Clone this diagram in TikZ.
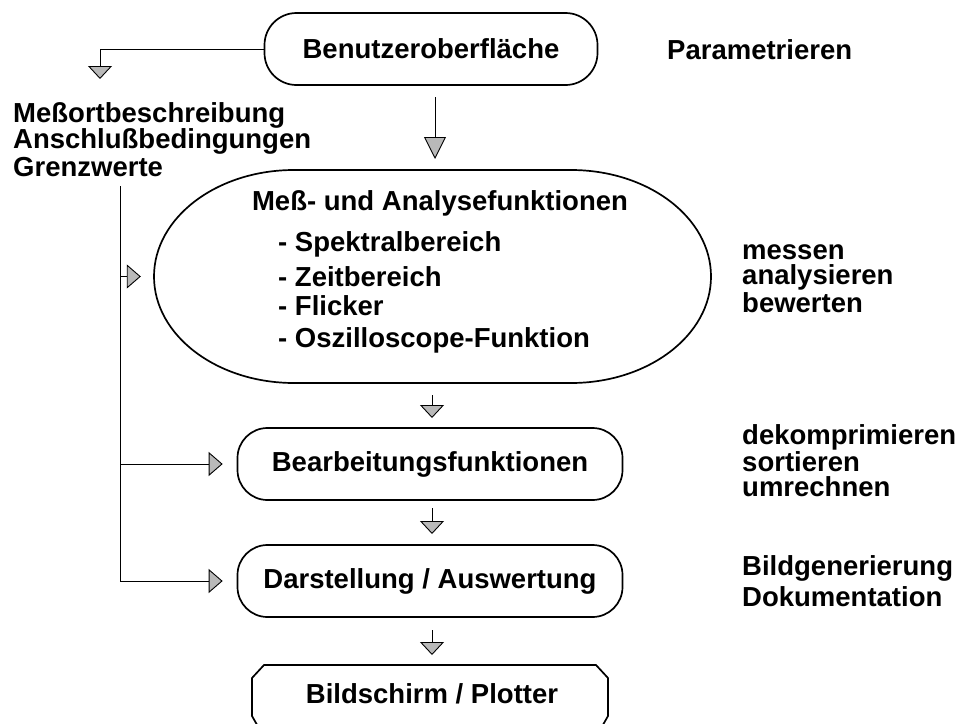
\documentclass[tikz,border=0pt]{standalone}
\usepackage{fontspec}
\setmainfont{Liberation Sans}
\usetikzlibrary{arrows.meta}
\tikzset{
  x=1pt, y=-1pt,
  lbl/.style={font=\bfseries\fontsize{27.5}{31}\selectfont, inner sep=0pt},
  lbll/.style={lbl, anchor=west},
  box/.style={draw, line width=1.7pt, rounded corners=30pt, minimum width=385pt, minimum height=72pt},
  outline/.style={line width=1.7pt},
  wire/.style={line width=0.9pt},
  bigtip/.style={wire, -{Triangle[width=22pt,length=22pt,fill=gray!55,line width=0.9pt]}},
  smalltip/.style={wire, -{Triangle[width=24pt,length=13pt,fill=gray!55,line width=0.9pt]}},
  sidetip/.style={wire, -{Triangle[width=24pt,length=14pt,fill=gray!55,line width=0.9pt]}},
}
\begin{document}
\begin{tikzpicture}
\useasboundingbox (0,0) rectangle (966,723);
% top box
\node[draw, line width=1.7pt, rounded corners=32pt, minimum width=333pt, minimum height=72pt, lbl] (ui) at (431,49) {Benutzeroberfläche};
\node[lbll] (par) at (667,50) {Parametrieren};
% left text
\node[lbll] (t1) at (13,115) {Meßortbeschreibung};
\node[lbll] (t2) at (13,141) {Anschlußbedingungen};
\node[lbll] (t3) at (13,167) {Grenzwerte};
% big rounded shape (elliptical ends)
\node[minimum width=557pt, minimum height=213pt, inner sep=0pt] (mf) at (432.5,276.5) {};
\draw[outline] (294,170) -- (571,170)
  arc[start angle=90,end angle=-90,x radius=140pt,y radius=106.5pt]
  -- (294,383)
  arc[start angle=270,end angle=90,x radius=140pt,y radius=106.5pt] -- cycle;
\node[lbl] (mft) at (440,203) {Meß- und Analysefunktionen};
\node[lbll] (i1) at (278,244) {- Spektralbereich};
\node[lbll] (i2) at (278,277) {- Zeitbereich};
\node[lbll] (i3) at (278,306) {- Flicker};
\node[lbll] (i4) at (278,340) {- Oszilloscope-Funktion};
\node[lbll] (r1) at (742,252) {messen};
\node[lbll] (r2) at (742,277) {analysieren};
\node[lbll] (r3) at (742,303) {bewerten};
% box 2
\node[box, lbl] (b2) at (430,464) {Bearbeitungsfunktionen};
\node[lbll] (r4) at (742,437) {dekomprimieren};
\node[lbll] (r5) at (742,462) {sortieren};
\node[lbll] (r6) at (742,487) {umrechnen};
% box 3
\node[box, lbl] (b3) at (430,581) {Darstellung / Auswertung};
\node[lbll] (r7) at (742,568) {Bildgenerierung};
\node[lbll] (r8) at (742,597) {Dokumentation};
% box 4 (chamfered)
\draw[outline] (264,665) -- (596,665) -- (608,678) -- (608,716) -- (600,730) -- (260,730) -- (252,716) -- (252,678) -- cycle;
\node[lbl] (b4) at (432,694) {Bildschirm / Plotter};
% connectors
\coordinate (lt) at (100,79);
\draw[smalltip] (ui.west) -| (lt);
\coordinate (m1) at (435,97);
\coordinate (m2) at (435,159);
\draw[bigtip] (m1) -- (m2);
\coordinate (tr0) at (120,186);
\coordinate (tr1) at (120,276.5);
\coordinate (tr2) at (120,464);
\coordinate (tr3) at (120,581);
\draw[wire] (tr0) -- (tr3);
\draw[sidetip] (tr1) -- ([xshift=-13pt]mf.west);
\draw[sidetip] (tr2) -- ([xshift=-14pt]b2.west);
\draw[sidetip] (tr3) -- ([xshift=-14pt]b3.west);
\coordinate (s1) at (432,395);
\coordinate (s1e) at (432,418);
\draw[smalltip] (s1) -- (s1e);
\coordinate (s2) at (432,508);
\coordinate (s2e) at (432,534);
\draw[smalltip] (s2) -- (s2e);
\coordinate (s3) at (432,630);
\coordinate (s3e) at (432,655);
\draw[smalltip] (s3) -- (s3e);
\end{tikzpicture}
\end{document}
